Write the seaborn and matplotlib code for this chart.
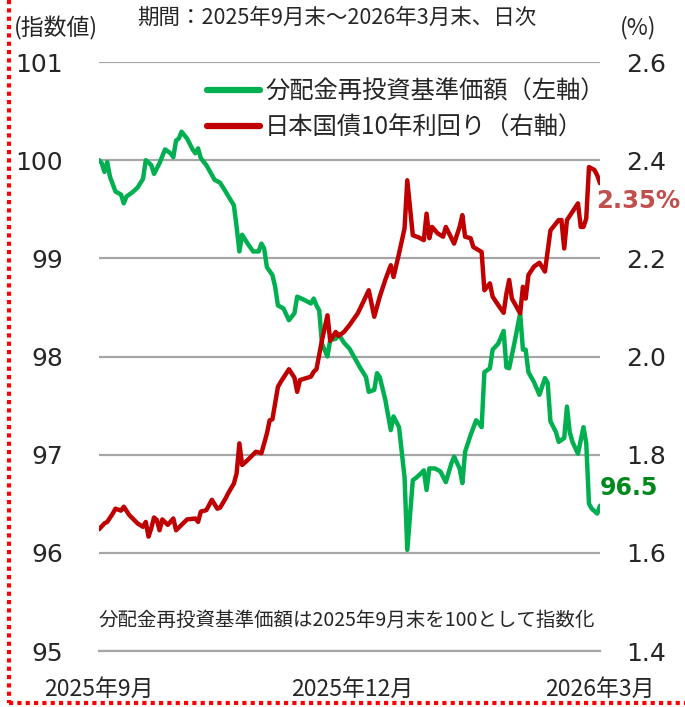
# 分配金再投資基準価額 と 日本国債10年利回り の推移 (日次)
# 左軸が指数値、右軸が利回り(%)

import pandas as pd
import matplotlib.pyplot as plt
import matplotlib.lines as mlines
import seaborn as sns

# --- データ ---
fondo_fechas = [
    "2025-09-30", "2025-10-01", "2025-10-02", "2025-10-03", "2025-10-04", "2025-10-06",
    "2025-10-08", "2025-10-09", "2025-10-10", "2025-10-12", "2025-10-14", "2025-10-16",
    "2025-10-17", "2025-10-19", "2025-10-20", "2025-10-22", "2025-10-24", "2025-10-26",
    "2025-10-27", "2025-10-28", "2025-10-29", "2025-10-30", "2025-11-01", "2025-11-03",
    "2025-11-04", "2025-11-05", "2025-11-06", "2025-11-08", "2025-11-11", "2025-11-13",
    "2025-11-15", "2025-11-18", "2025-11-19", "2025-11-20", "2025-11-21", "2025-11-23",
    "2025-11-25", "2025-11-27", "2025-11-28", "2025-11-29", "2025-11-30", "2025-12-02",
    "2025-12-03", "2025-12-04", "2025-12-06", "2025-12-08", "2025-12-10", "2025-12-11",
    "2025-12-14", "2025-12-16", "2025-12-17", "2025-12-18", "2025-12-19", "2025-12-20",
    "2025-12-22", "2025-12-23", "2025-12-25", "2025-12-26", "2025-12-28", "2025-12-30",
    "2026-01-01", "2026-01-03", "2026-01-05", "2026-01-06", "2026-01-08", "2026-01-09",
    "2026-01-10", "2026-01-12", "2026-01-14", "2026-01-15", "2026-01-17", "2026-01-19",
    "2026-01-20", "2026-01-22", "2026-01-23", "2026-01-25", "2026-01-26", "2026-01-27",
    "2026-01-28", "2026-01-30", "2026-02-01", "2026-02-03", "2026-02-05", "2026-02-06",
    "2026-02-08", "2026-02-09", "2026-02-10", "2026-02-12", "2026-02-14", "2026-02-15",
    "2026-02-16", "2026-02-17", "2026-02-19", "2026-02-20", "2026-02-22", "2026-02-24",
    "2026-02-25", "2026-02-26", "2026-02-28", "2026-03-02", "2026-03-03", "2026-03-04",
    "2026-03-05", "2026-03-07", "2026-03-09", "2026-03-11", "2026-03-12", "2026-03-13",
    "2026-03-15", "2026-03-16", "2026-03-18", "2026-03-19", "2026-03-20", "2026-03-21",
    "2026-03-23", "2026-03-25", "2026-03-26", "2026-03-27", "2026-03-28", "2026-03-30",
    "2026-03-31",
]
fondo_valores = [
    100.00, 99.97, 99.88, 99.98, 99.83, 99.68,
    99.65, 99.56, 99.63, 99.67, 99.72, 99.81,
    100.00, 99.95, 99.86, 99.97, 100.11, 100.07,
    100.03, 100.20, 100.22, 100.29, 100.22, 100.11,
    100.07, 100.12, 100.02, 99.95, 99.80, 99.77,
    99.68, 99.54, 99.32, 99.07, 99.24, 99.15,
    99.07, 99.07, 99.15, 99.10, 98.91, 98.83,
    98.71, 98.52, 98.49, 98.37, 98.44, 98.61,
    98.57, 98.54, 98.59, 98.52, 98.47, 98.13,
    98.00, 98.17, 98.18, 98.23, 98.14, 98.08,
    97.98, 97.88, 97.79, 97.64, 97.66, 97.83,
    97.79, 97.56, 97.25, 97.39, 97.28, 96.77,
    96.03, 96.74, 96.76, 96.81, 96.84, 96.64,
    96.86, 96.86, 96.83, 96.72, 96.91, 96.98,
    96.86, 96.71, 97.03, 97.20, 97.35, 97.32,
    97.28, 97.84, 97.88, 98.07, 98.13, 98.26,
    97.89, 97.88, 98.15, 98.44, 98.07, 98.07,
    97.84, 97.74, 97.61, 97.78, 97.73, 97.34,
    97.23, 97.13, 97.17, 97.49, 97.23, 97.13,
    97.01, 97.28, 97.12, 96.50, 96.45, 96.40,
    96.48,
]

bono_fechas = [
    "2025-09-30", "2025-10-02", "2025-10-03", "2025-10-05", "2025-10-06", "2025-10-08",
    "2025-10-09", "2025-10-11", "2025-10-14", "2025-10-16", "2025-10-17", "2025-10-18",
    "2025-10-19", "2025-10-20", "2025-10-21", "2025-10-22", "2025-10-23", "2025-10-25",
    "2025-10-27", "2025-10-28", "2025-10-30", "2025-11-01", "2025-11-04", "2025-11-05",
    "2025-11-06", "2025-11-08", "2025-11-10", "2025-11-12", "2025-11-13", "2025-11-15",
    "2025-11-16", "2025-11-18", "2025-11-19", "2025-11-20", "2025-11-21", "2025-11-23",
    "2025-11-26", "2025-11-28", "2025-11-30", "2025-12-01", "2025-12-02", "2025-12-04",
    "2025-12-05", "2025-12-08", "2025-12-10", "2025-12-11", "2025-12-12", "2025-12-16",
    "2025-12-17", "2025-12-18", "2025-12-20", "2025-12-22", "2025-12-23", "2025-12-25",
    "2025-12-26", "2025-12-28", "2025-12-30", "2026-01-02", "2026-01-04", "2026-01-06",
    "2026-01-08", "2026-01-10", "2026-01-12", "2026-01-14", "2026-01-15", "2026-01-17",
    "2026-01-19", "2026-01-20", "2026-01-22", "2026-01-24", "2026-01-26", "2026-01-27",
    "2026-01-28", "2026-01-29", "2026-01-31", "2026-02-02", "2026-02-03", "2026-02-06",
    "2026-02-08", "2026-02-09", "2026-02-10", "2026-02-12", "2026-02-13", "2026-02-16",
    "2026-02-17", "2026-02-19", "2026-02-20", "2026-02-22", "2026-02-24", "2026-02-25",
    "2026-02-26", "2026-02-27", "2026-03-02", "2026-03-03", "2026-03-04", "2026-03-05",
    "2026-03-07", "2026-03-09", "2026-03-11", "2026-03-13", "2026-03-16", "2026-03-17",
    "2026-03-18", "2026-03-19", "2026-03-23", "2026-03-24", "2026-03-25", "2026-03-26",
    "2026-03-27", "2026-03-29", "2026-03-30", "2026-03-31",
]
bono_valores = [
    1.648, 1.660, 1.663, 1.680, 1.690, 1.686,
    1.694, 1.677, 1.660, 1.653, 1.663, 1.633,
    1.650, 1.672, 1.667, 1.646, 1.668, 1.657,
    1.670, 1.646, 1.657, 1.668, 1.670, 1.663,
    1.684, 1.687, 1.708, 1.690, 1.692, 1.711,
    1.722, 1.741, 1.762, 1.823, 1.779, 1.789,
    1.806, 1.803, 1.843, 1.870, 1.872, 1.938,
    1.948, 1.974, 1.957, 1.928, 1.952, 1.959,
    1.969, 1.974, 2.033, 2.084, 2.032, 2.050,
    2.042, 2.050, 2.064, 2.088, 2.111, 2.135,
    2.081, 2.122, 2.156, 2.186, 2.162, 2.210,
    2.261, 2.359, 2.247, 2.243, 2.237, 2.291,
    2.241, 2.264, 2.251, 2.244, 2.264, 2.230,
    2.264, 2.288, 2.244, 2.241, 2.223, 2.213,
    2.135, 2.149, 2.122, 2.105, 2.089, 2.128,
    2.156, 2.118, 2.088, 2.142, 2.118, 2.166,
    2.183, 2.191, 2.173, 2.257, 2.278, 2.278,
    2.220, 2.278, 2.312, 2.264, 2.264, 2.281,
    2.386, 2.380, 2.369, 2.353,
]

etiquetas_x = ["2025年9月", "2025年12月", "2026年3月"]
fechas_x = ["2025-09-30", "2025-12-31", "2026-03-31"]
ticks_izq = [95, 96, 97, 98, 99, 100, 101]
ticks_der = [1.4, 1.6, 1.8, 2.0, 2.2, 2.4, 2.6]

nombre_fondo = "分配金再投資基準価額（左軸）"
nombre_bono = "日本国債10年利回り（右軸）"
texto_fondo_final = "96.5"
texto_bono_final = "2.35%"

VERDE = "#00B050"
ROJO = "#C00000"
GRIS = "#A6A6A6"
JP = ["Noto Sans CJK JP", "DejaVu Sans"]

sns.set_style("white")
plt.rcParams["font.family"] = ["DejaVu Sans", "Noto Sans CJK JP"]

df_fondo = pd.DataFrame({"fecha": pd.to_datetime(fondo_fechas), "valor": fondo_valores})
df_bono = pd.DataFrame({"fecha": pd.to_datetime(bono_fechas), "valor": bono_valores})

fig = plt.figure(figsize=(6.85, 7.07), dpi=100)
ax = fig.add_axes([0.1445, 0.0792, 0.7314, 0.8331])
ax2 = ax.twinx()

sns.lineplot(data=df_fondo, x="fecha", y="valor", ax=ax, color=VERDE,
             linewidth=3.2, legend=False)
sns.lineplot(data=df_bono, x="fecha", y="valor", ax=ax2, color=ROJO,
             linewidth=3.2, legend=False)

# ejes
ax.set_ylim(95, 101)
ax2.set_ylim(1.4, 2.6)
ax.set_xlim(pd.Timestamp(fechas_x[0]), pd.Timestamp(fechas_x[-1]))
ax.set_yticks(ticks_izq)
ax.set_yticklabels([str(t) for t in ticks_izq], fontsize=18)
ax2.set_yticks(ticks_der)
ax2.set_yticklabels([f"{t:.1f}" for t in ticks_der], fontsize=18)
ax.set_xticks(pd.to_datetime(fechas_x))
ax.set_xticklabels(etiquetas_x, fontsize=16.5, family=JP)
ax.set_xlabel("")
ax.set_ylabel("")
ax2.set_ylabel("")

ax.tick_params(axis="y", length=0, pad=26)
ax2.tick_params(axis="y", length=0, pad=19)
ax.tick_params(axis="x", direction="in", length=6, width=1.5, color=GRIS, pad=19)

ax.yaxis.grid(True, color=GRIS, linewidth=1.6)
ax.set_axisbelow(True)
for a in (ax, ax2):
    for lado in ("top", "left", "right", "bottom"):
        a.spines[lado].set_visible(False)
ax.spines["bottom"].set_visible(True)
ax.spines["bottom"].set_color(GRIS)
ax.spines["bottom"].set_linewidth(1.6)

# leyenda
h1 = mlines.Line2D([], [], color=VERDE, linewidth=4.5, solid_capstyle="round")
h2 = mlines.Line2D([], [], color=ROJO, linewidth=4.5, solid_capstyle="round")
ax2.legend([h1, h2], [nombre_fondo, nombre_bono], loc="upper left",
           bbox_to_anchor=(0.215, 0.972), frameon=False, borderpad=0,
           borderaxespad=0, handlelength=2.2, handletextpad=0.2,
           labelspacing=0.42, prop={"family": JP, "size": 17.5})

# valores finales
ax2.annotate(texto_bono_final, xy=(df_bono["fecha"].iloc[-1], bono_valores[-1]),
             xytext=(-3, -13), textcoords="offset points", ha="left", va="center",
             fontsize=17.5, fontweight="bold", color="#C0504D")
ax.annotate(texto_fondo_final, xy=(df_fondo["fecha"].iloc[-1], fondo_valores[-1]),
            xytext=(0, 13), textcoords="offset points", ha="left", va="center",
            fontsize=17, fontweight="bold", color="#008A1E")

# textos de arriba y nota
fig.text(337 / 685, 1 - 18 / 707, "期間：2025年9月末～2026年3月末、日次",
         ha="center", va="center", fontsize=15.5, family=JP)
fig.text(56 / 685, 1 - 28 / 707, "(指数値)", ha="center", va="center",
         fontsize=16.5, family=JP)
fig.text(638 / 685, 1 - 28 / 707, "(%)", ha="center", va="center",
         fontsize=16.5, family=JP)
fig.text(347 / 685, 1 - 620 / 707, "分配金再投資基準価額は2025年9月末を100として指数化",
         ha="center", va="center", fontsize=14, family=JP)

# borde punteado rojo (izquierda y abajo)
fig.add_artist(mlines.Line2D([9 / 685, 9 / 685], [1, 4 / 707], color="#FF0000",
                             linewidth=3, linestyle=(0, (1, 1)),
                             transform=fig.transFigure))
fig.add_artist(mlines.Line2D([9 / 685, 1], [4 / 707, 4 / 707], color="#FF0000",
                             linewidth=3, linestyle=(0, (1, 1)),
                             transform=fig.transFigure))

fig.savefig("out.png", dpi=100)
